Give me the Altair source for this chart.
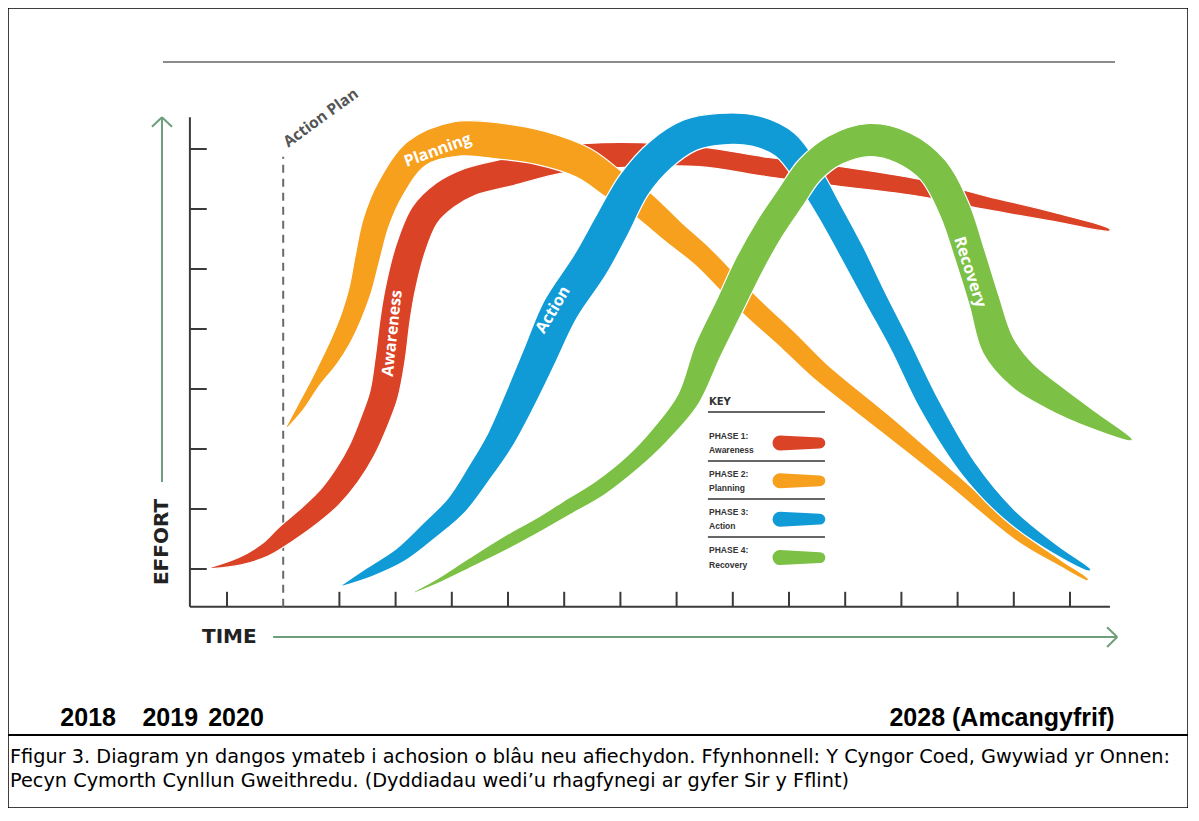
import altair as alt
import pandas as pd

# ---------------- data ----------------
# time / effort are expressed in axis-tick units (tick 0 = first time tick, effort tick 0 = lowest effort tick)
# thickness = width of each phase ribbon, in effort units
awareness_time = [-0.27, 0.23, 0.68, 1.03, 1.48, 1.83, 2.14, 2.40, 2.63, 2.79, 2.90, 2.99, 3.08, 3.26, 3.52,
                  3.88, 4.32, 5.04, 5.93, 6.99, 8.42, 9.61, 10.85, 12.33, 13.52, 14.70, 15.71]
awareness_effort = [0.02, 0.13, 0.32, 0.57, 0.90, 1.20, 1.57, 1.98, 2.48, 2.90, 3.48, 4.15, 4.65, 5.32, 5.90,
                    6.23, 6.45, 6.62, 6.82, 6.90, 6.87, 6.70, 6.55, 6.35, 6.10, 5.87, 5.65]
awareness_thick = [0.03, 0.13, 0.23, 0.32, 0.37, 0.40, 0.43, 0.45, 0.47, 0.48, 0.50, 0.50, 0.50, 0.50, 0.50,
                   0.50, 0.48, 0.47, 0.45, 0.42, 0.33, 0.32, 0.33, 0.28, 0.22, 0.15, 0.03]

planning_time = [1.07, 1.30, 1.57, 1.83, 2.03, 2.22, 2.37, 2.51, 2.65, 2.90, 3.38, 4.09, 4.86, 5.57, 6.34,
                 6.90, 7.40, 7.94, 8.47, 9.27, 10.02, 10.55, 11.74, 12.92, 14.11, 14.82, 15.32]
planning_effort = [2.37, 2.68, 3.10, 3.48, 3.82, 4.23, 4.65, 5.23, 5.77, 6.32, 6.93, 7.17, 7.13, 7.02, 6.77,
                   6.40, 6.07, 5.62, 5.20, 4.43, 3.78, 3.30, 2.40, 1.48, 0.53, 0.10, -0.18]
planning_thick = [0.03, 0.12, 0.17, 0.27, 0.32, 0.35, 0.38, 0.42, 0.45, 0.47, 0.50, 0.58, 0.60, 0.57, 0.53,
                  0.50, 0.47, 0.42, 0.38, 0.37, 0.35, 0.33, 0.30, 0.23, 0.17, 0.10, 0.03]

action_time = [2.06, 2.54, 3.08, 3.61, 4.09, 4.50, 4.86, 5.21, 5.57, 5.93, 6.46, 6.85, 7.24, 7.71, 8.24,
               8.77, 9.40, 9.93, 10.34, 10.73, 11.12, 11.53, 11.98, 12.51, 13.19, 13.93, 14.75, 15.36]
action_effort = [-0.27, -0.05, 0.23, 0.65, 1.07, 1.62, 2.15, 2.82, 3.57, 4.32, 5.07, 5.73, 6.40, 6.90, 7.23,
                 7.33, 7.30, 7.07, 6.57, 5.95, 5.28, 4.53, 3.73, 2.72, 1.68, 0.90, 0.32, -0.02]
action_thick = [0.03, 0.17, 0.25, 0.32, 0.37, 0.42, 0.47, 0.53, 0.58, 0.62, 0.63, 0.62, 0.58, 0.57, 0.55,
                0.53, 0.52, 0.50, 0.47, 0.43, 0.42, 0.38, 0.35, 0.35, 0.30, 0.23, 0.15, 0.03]

recovery_time = [3.35, 3.79, 4.32, 4.95, 5.57, 6.05, 6.64, 7.22, 7.70, 8.20, 8.56, 8.95, 9.31, 9.66, 10.02,
                 10.37, 10.82, 11.44, 12.03, 12.56, 12.95, 13.22, 13.47, 13.72, 14.15, 14.70, 15.41, 16.10]
recovery_effort = [-0.38, -0.18, 0.10, 0.43, 0.75, 1.02, 1.35, 1.78, 2.23, 2.82, 3.65, 4.40, 5.10, 5.68, 6.18,
                   6.65, 6.98, 7.15, 7.02, 6.65, 5.98, 5.23, 4.48, 3.73, 3.23, 2.87, 2.48, 2.15]
recovery_thick = [0.03, 0.08, 0.15, 0.22, 0.23, 0.25, 0.27, 0.28, 0.32, 0.38, 0.47, 0.48, 0.50, 0.50, 0.50,
                  0.50, 0.52, 0.55, 0.55, 0.53, 0.53, 0.52, 0.52, 0.57, 0.53, 0.45, 0.28, 0.03]

phase_names = ["Awareness", "Planning", "Action", "Recovery"]
phase_keys = ["PHASE 1:", "PHASE 2:", "PHASE 3:", "PHASE 4:"]
phase_colors = ["#db4327", "#f6a01d", "#119bd6", "#7cc145"]

# labels written along each ribbon
ribbon_label_time = [2.94, 3.75, 5.80, 13.22]
ribbon_label_effort = [3.93, 6.98, 4.32, 4.95]
ribbon_label_angle = [276, 340, 301, 72]

time_ticks = [0, 2, 3, 4, 5, 6, 7, 8, 9, 10, 11, 12, 13, 14, 15]
effort_ticks = [0, 1, 2, 3, 4, 5, 6, 7]
action_plan_time = 1

year_labels = ["2018", "2019", "2020", "2028 (Amcangyfrif)"]
year_time = [-2.47, -1.01, 0.16, 13.79]

caption_lines = [
    "Ffigur 3. Diagram yn dangos ymateb i achosion o blâu neu afiechydon. Ffynhonnell: Y Cyngor Coed, Gwywiad yr Onnen:",
    "Pecyn Cymorth Cynllun Gweithredu. (Dyddiadau wedi\u2019u rhagfynegi ar gyfer Sir y Fflint)",
]

# ---------------- layout constants ----------------
W, H = 1180, 800
X_DOM = [-3.8968, 17.0996]
Y_DOM = [-3.9833, 9.35]
AXIS_T = -0.66      # time position of effort axis
AXIS_E = -0.63      # effort position of time axis
AXIS_TOP = 7.53
AXIS_END = 15.71
KX = W / (X_DOM[1] - X_DOM[0])   # pixels per time unit
KY = H / (Y_DOM[1] - Y_DOM[0])   # pixels per effort unit

xs = alt.Scale(domain=X_DOM, nice=False, zero=False)
ys = alt.Scale(domain=Y_DOM, nice=False, zero=False)
ss = alt.Scale(domain=[0, 1], range=[0, KY], zero=True)

X = lambda f: alt.X(f, type="quantitative", scale=xs, axis=None)
Y = lambda f: alt.Y(f, type="quantitative", scale=ys, axis=None)


def rules(df, **style):
    return alt.Chart(df).mark_rule(**style).encode(x=X("x"), x2="x2:Q", y=Y("y"), y2="y2:Q")


def texts(df, **style):
    return alt.Chart(df).mark_text(**style).encode(x=X("x"), y=Y("y"), text="t:N")


def band(times, efforts, thick, color):
    """Outline of a ribbon of the given thickness around the centre line (perpendicular offset)."""
    n = len(times)
    side_a, side_b = [], []
    for i in range(n):
        a, b = max(i - 1, 0), min(i + 1, n - 1)
        dx = (times[b] - times[a]) * KX
        dy = (efforts[b] - efforts[a]) * KY
        ln = (dx * dx + dy * dy) ** 0.5
        nx, ny = -dy / ln, dx / ln
        half = thick[i] * KY / 2
        side_a.append((times[i] + nx * half / KX, efforts[i] + ny * half / KY))
        side_b.append((times[i] - nx * half / KX, efforts[i] - ny * half / KY))
    pts = side_a + side_b[::-1]
    df = pd.DataFrame({"time": [p[0] for p in pts], "effort": [p[1] for p in pts], "k": range(len(pts))})
    return alt.Chart(df).mark_line(interpolate="catmull-rom", fill=color, stroke="white",
                                   strokeWidth=1.2, fillOpacity=1).encode(
        x=X("time"), y=Y("effort"), order=alt.Order("k:Q"))


layers = []

# top grey line
layers.append(rules(pd.DataFrame({"x": [-1.14], "x2": [15.80], "y": [8.45], "y2": [8.45]}),
                    color="#8c8c8c", strokeWidth=2))

# axes
axis_df = pd.DataFrame({
    "x": [AXIS_T, AXIS_T] + [AXIS_T] * len(effort_ticks) + time_ticks,
    "x2": [AXIS_T, AXIS_END] + [-0.36] * len(effort_ticks) + time_ticks,
    "y": [AXIS_E, AXIS_E] + effort_ticks + [AXIS_E] * len(time_ticks),
    "y2": [AXIS_TOP, AXIS_E] + effort_ticks + [-0.38] * len(time_ticks),
})
layers.append(rules(axis_df, color="#3a3a3a", strokeWidth=2))

# action plan dashed line
layers.append(rules(pd.DataFrame({"x": [action_plan_time], "x2": [action_plan_time],
                                  "y": [AXIS_E], "y2": [6.87]}),
                    color="#6a6a6a", strokeWidth=2, strokeDash=[8, 6]))

# green arrows (effort and time)
arrow_df = pd.DataFrame({
    "x": [-1.157, -1.157, -1.157, 0.82, 15.84, 15.84],
    "x2": [-1.157, -1.335, -0.979, 15.84, 15.66, 15.66],
    "y": [1.45, 7.53, 7.53, -1.133, -1.133, -1.133],
    "y2": [7.53, 7.37, 7.37, -1.133, -0.97, -1.30],
})
layers.append(rules(arrow_df, color="#6f9e7c", strokeWidth=2))

# ribbons (drawn in the overlap order of the reference)
layers.append(band(awareness_time, awareness_effort, awareness_thick, phase_colors[0]))
layers.append(band(planning_time, planning_effort, planning_thick, phase_colors[1]))
layers.append(band(action_time, action_effort, action_thick, phase_colors[2]))
layers.append(band(recovery_time, recovery_effort, recovery_thick, phase_colors[3]))

# ribbon labels
lab_df = pd.DataFrame({"x": ribbon_label_time, "y": ribbon_label_effort, "t": phase_names,
                       "a": ribbon_label_angle})
layers.append(alt.Chart(lab_df).mark_text(font="Open Sans", fontWeight="bold", fontSize=16,
                                          color="white").encode(
    x=X("x"), y=Y("y"), text="t:N", angle=alt.Angle("a:Q", scale=None)))

# "Action Plan" label
layers.append(texts(pd.DataFrame({"x": [1.67], "y": [7.52], "t": ["Action Plan"]}),
                    font="Open Sans", fontWeight="bold", fontSize=15.5, color="#555555", angle=324))

# axis titles
layers.append(texts(pd.DataFrame({"x": [-1.157], "y": [0.45], "t": ["EFFORT"]}),
                    font="DejaVu Sans", fontWeight="bold", fontSize=20, color="#222222", angle=270))
layers.append(texts(pd.DataFrame({"x": [-0.445], "y": [-1.133], "t": ["TIME"]}),
                    font="DejaVu Sans", fontWeight="bold", fontSize=20, color="#222222",
                    align="left", baseline="middle"))

# key
key_x = 8.577
layers.append(texts(pd.DataFrame({"x": [key_x], "y": [2.783], "t": ["KEY"]}),
                    font="DejaVu Sans", fontWeight="bold", fontSize=10, color="#333333",
                    align="left", baseline="middle"))
key_rows = [2.10, 1.47, 0.83, 0.19]
key_sep = [2.617, 1.80, 1.167, 0.533]
layers.append(rules(pd.DataFrame({"x": [key_x - 0.02] * 4, "x2": [10.64] * 4, "y": key_sep, "y2": key_sep}),
                    color="#333333", strokeWidth=1.5))
key_txt = pd.DataFrame({
    "x": [key_x] * 8,
    "y": [r + d for r in key_rows for d in (0.12, -0.12)],
    "t": [s for pair in zip(phase_keys, phase_names) for s in pair],
})
layers.append(texts(key_txt, font="Liberation Sans", fontWeight="bold", fontSize=8.5, color="#333333",
                    align="left", baseline="middle"))
sw_rows = []
for name, col, r in zip(phase_names, phase_colors, key_rows):
    sw_rows.append({"time": 9.84, "effort": r, "thick": 0.25, "c": col, "p": name, "i": 0})
    sw_rows.append({"time": 10.55, "effort": r, "thick": 0.18, "c": col, "p": name, "i": 1})
layers.append(alt.Chart(pd.DataFrame(sw_rows)).mark_trail(opacity=1).encode(
    x=X("time"), y=Y("effort"), size=alt.Size("thick:Q", scale=ss, legend=None),
    color=alt.Color("c:N", scale=None), detail="p:N", order=alt.Order("i:Q")))

# year labels
layers.append(texts(pd.DataFrame({"x": year_time, "y": [-2.483] * 4, "t": year_labels}),
                    font="Liberation Sans", fontWeight="bold", fontSize=25, color="black",
                    baseline="middle"))

# separator between figure and caption
layers.append(rules(pd.DataFrame({"x": [X_DOM[0]], "x2": [X_DOM[1]], "y": [-2.767], "y2": [-2.767]}),
                    color="black", strokeWidth=2))

# caption
layers.append(texts(pd.DataFrame({"x": [-3.861, -3.861], "y": [-3.133, -3.533], "t": caption_lines}),
                    font="DejaVu Sans", fontSize=19.3, color="black", align="left", baseline="middle"))

chart = alt.layer(*layers).properties(
    width=W, height=H, padding=0, autosize=alt.AutoSizeParams(type="none"),
    background="white",
).configure_view(stroke="black", strokeWidth=1.5)

chart.save("out.html", embed_options={"renderer": "svg", "actions": False})
